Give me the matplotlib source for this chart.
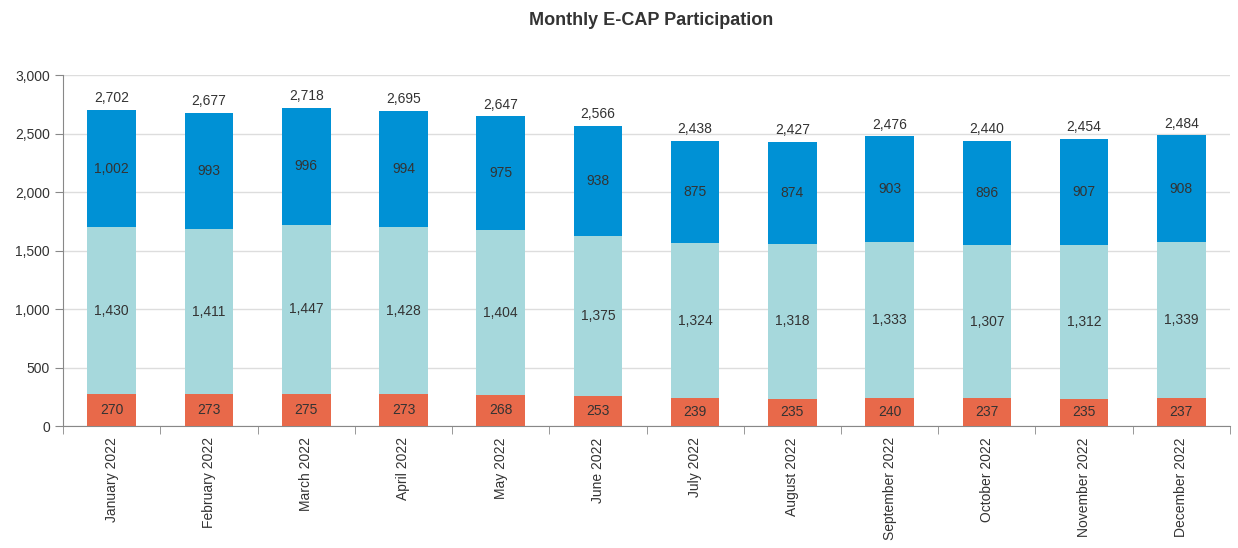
import numpy as np
import matplotlib
matplotlib.use("Agg")
import matplotlib.pyplot as plt

plt.rcParams['font.family'] = ['Liberation Sans', 'DejaVu Sans']

months = ["January 2022", "February 2022", "March 2022", "April 2022", "May 2022",
          "June 2022", "July 2022", "August 2022", "September 2022", "October 2022",
          "November 2022", "December 2022"]
bottom_vals = [270, 273, 275, 273, 268, 253, 239, 235, 240, 237, 235, 237]
middle_vals = [1430, 1411, 1447, 1428, 1404, 1375, 1324, 1318, 1333, 1307, 1312, 1339]
top_vals = [1002, 993, 996, 994, 975, 938, 875, 874, 903, 896, 907, 908]

colors = ["#E8694A", "#A6D8DC", "#0091D5"]

fig = plt.figure(figsize=(12.38, 5.48), dpi=100)
ax = fig.add_axes([0.051, 0.2226, 0.9425, 0.6405])

x = np.arange(len(months))
b = np.array(bottom_vals)
m = np.array(middle_vals)
t = np.array(top_vals)

bars1 = ax.bar(x, b, 0.5, color=colors[0], zorder=3)
bars2 = ax.bar(x, m, 0.5, bottom=b, color=colors[1], zorder=3)
bars3 = ax.bar(x, t, 0.5, bottom=b + m, color=colors[2], zorder=3)

for bars in (bars1, bars2, bars3):
    ax.bar_label(bars, labels=[f"{v:,}" for v in bars.datavalues], label_type='center',
                 fontsize=10, color="#333333", zorder=4)

totals = b + m + t
for xi, tot in zip(x, totals):
    ax.text(xi, tot + 40, f"{tot:,}", ha='center', va='bottom', fontsize=10, color="#333333")

ax.set_ylim(0, 3000)
ax.set_xlim(-0.5, len(months) - 0.5)
ax.set_yticks(np.arange(0, 3001, 500))
ax.set_yticklabels([f"{v:,}" for v in range(0, 3001, 500)], fontsize=10, color="#333333")
ax.set_xticks(x)
ax.set_xticklabels(months, rotation=90, fontsize=10, color="#333333")
ax.tick_params(axis='x', length=0, pad=8)
ax.set_xticks(np.arange(-0.5, len(months), 1), minor=True)
ax.tick_params(axis='x', which='minor', length=6, color="#888888")
ax.tick_params(axis='y', length=6, color="#888888")

ax.yaxis.grid(True, color="#DDDDDD", linewidth=1, zorder=0)
ax.set_axisbelow(True)
for s in ("top", "right"):
    ax.spines[s].set_visible(False)
for s in ("left", "bottom"):
    ax.spines[s].set_color("#888888")

fig.text(0.526, 0.962, "Monthly E-CAP Participation", ha='center', va='center',
         fontsize=13, fontweight='bold', color="#333333")

fig.savefig("out.png", dpi=100)
